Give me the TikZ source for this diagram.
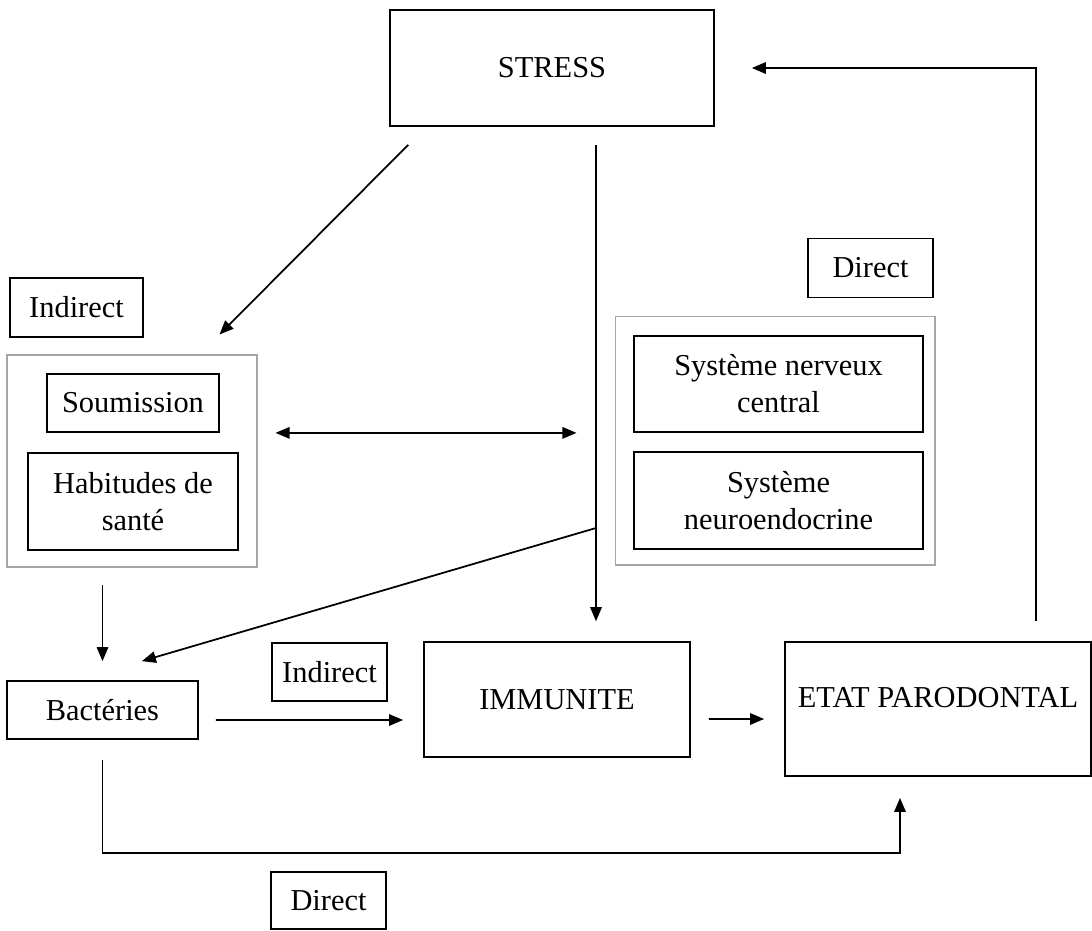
\documentclass[tikz,border=0pt]{standalone}
\usepackage{fontspec}
\setmainfont{Liberation Serif}
\usetikzlibrary{arrows.meta, positioning, calc}

\begin{document}
\begin{tikzpicture}[
    x=0.02cm, y=-0.02cm,
    % Define styles
    box/.style={rectangle, draw=black, line width=1pt, inner sep=2pt, align=center, font=\fontsize{17.3}{21}\selectfont},
    label_box/.style={box, minimum width=2.3cm, minimum height=1.16cm},
    group_box/.style={rectangle, draw=gray!70, line width=0.6pt},
    arrow/.style={-{Triangle[length=8pt, width=6.5pt]}, line width=1pt},
    dblarrow/.style={{Triangle[length=8pt, width=6.5pt]}-{Triangle[length=8pt, width=6.5pt]}, line width=1pt},
    ]

    \useasboundingbox (0,0) rectangle (1092,930);

    % Group boxes
    \node[group_box, minimum width=5cm, minimum height=4.24cm] (grp_left) at (132,461) {};
    \node[group_box, minimum width=6.4cm, minimum height=4.98cm] (grp_right) at (775,440.5) {};

    % Main nodes
    \node[box, minimum width=6.48cm, minimum height=2.32cm] (stress) at (552,68) {STRESS};
    \node[label_box, minimum width=2.66cm, minimum height=1.18cm] (indirect_top) at (76.5,307.5) {Indirect};
    \node[label_box, minimum width=2.5cm, minimum height=1.18cm] (direct_top) at (870.5,268) {Direct};

    % Indirect path
    \node[box, minimum width=3.44cm, minimum height=1.16cm] (soumission) at (133,403) {Soumission};
    \node[box, minimum width=4.2cm, minimum height=1.94cm, below=0.38cm of soumission] (habitudes) {Habitudes de\\sant\'e};

    % Direct path
    \node[box, minimum width=5.78cm, minimum height=1.92cm] (snc) at (778.5,384) {Syst\`eme nerveux\\central};
    \node[box, minimum width=5.78cm, minimum height=1.94cm, below=0.36cm of snc] (sne) {Syst\`eme\\neuroendocrine};

    % Bottom row
    \node[box, minimum width=3.82cm, minimum height=1.16cm] (bacteries) at (102.5,710) {Bact\'eries};
    \node[label_box] (indirect_mid) at (329.5,672) {Indirect};
    \node[box, minimum width=5.32cm, minimum height=2.3cm] (immunite) at (557,699.5) {IMMUNITE};
    \node[box, minimum width=6.12cm, minimum height=2.68cm, text depth=13pt] (etat) at (938,709) {ETAT PARODONTAL};
    \node[label_box, minimum height=1.14cm] (direct_bot) at (328.5,900.5) {Direct};

    % Helper points
    \coordinate (split) at (596,528);
    \coordinate (route) at (900,853);
    \coordinate (fb) at (1036,67);

    % Arrows from stress
    \draw[arrow] ($(stress.south west)+(19,18)$) -- ($(grp_left.north east)+(-38,-20)$);
    \draw[arrow, shorten <=10.2pt, shorten >=11.3pt] (stress.south -| split) -- (immunite.north -| split);
    \draw[arrow] (split) -- ($(bacteries.north east)+(-57,-19)$);
    \draw[dblarrow] ($(grp_left.east |- soumission.south)+(18,0)$) -- ($(grp_right.west |- soumission.south)+(-38,0)$);

    % Arrows to bacteria and onwards
    \draw[arrow, shorten <=10.2pt, shorten >=10.8pt] (grp_left.south -| bacteries) -- (bacteries.north);
    \draw[arrow] ($(bacteries.east)+(17,10)$) -- ($(immunite.west)+(-20,20.5)$);
    \draw[arrow] ($(immunite.east)+(18,19.5)$) -- ($(etat.west)+(-20,10)$);
    \draw[arrow, shorten <=11.3pt] (bacteries.south) |- (route) -- ($(etat.south -| route)+(0,21)$);

    % Feedback to stress
    \draw[arrow] ($(etat.north -| fb)+(0,-20)$) |- ($(stress.east)+(37,0)$);

\end{tikzpicture}
\end{document}
